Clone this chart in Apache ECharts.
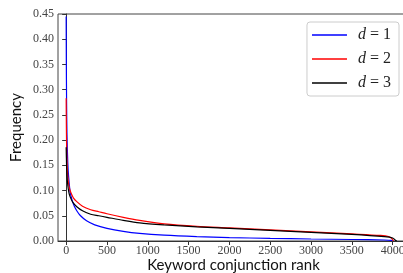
<!DOCTYPE html>
<html>
<head>
<meta charset="utf-8">
<script src="https://cdn.jsdelivr.net/npm/echarts@6/dist/echarts.min.js"></script>
<style>
html, body { margin: 0; padding: 0; background: #fff; }
#chart { width: 403px; height: 273px; }
</style>
</head>
<body>
<div id="chart"></div>
<script>
// rank and frequency
var rank1 = [0, 2, 5, 10, 20, 30, 50, 80, 100, 130, 170, 250, 350, 500, 700, 900, 1200, 1600, 2000, 2500, 3000, 3500, 3900, 3985, 4000];
var freq1 = [0.445, 0.36, 0.28, 0.21, 0.155, 0.128, 0.096, 0.077, 0.069, 0.060, 0.051, 0.040, 0.032, 0.025, 0.019, 0.015, 0.0115, 0.0087, 0.0068, 0.0052, 0.0040, 0.0030, 0.0020, 0.0012, 0.0];

var rank2 = [0, 3, 8, 15, 25, 40, 60, 90, 130, 200, 300, 400, 500, 700, 900, 1200, 1600, 2000, 2500, 3000, 3500, 3850, 3950, 3990, 4010];
var freq2 = [0.283, 0.22, 0.17, 0.14, 0.12, 0.105, 0.095, 0.085, 0.078, 0.069, 0.062, 0.058, 0.054, 0.047, 0.041, 0.034, 0.029, 0.026, 0.022, 0.018, 0.014, 0.011, 0.009, 0.005, 0.0];

var rank3 = [0, 5, 10, 20, 35, 50, 80, 130, 200, 300, 400, 500, 700, 900, 1200, 1600, 2000, 2500, 3000, 3500, 3900, 4000, 4030, 4050];
var freq3 = [0.186, 0.15, 0.13, 0.11, 0.095, 0.087, 0.077, 0.068, 0.060, 0.053, 0.050, 0.047, 0.041, 0.036, 0.032, 0.028, 0.025, 0.021, 0.017, 0.013, 0.0085, 0.006, 0.002, 0.0];

var xTicks = [0, 500, 1000, 1500, 2000, 2500, 3000, 3500, 4000];

var names = ['d = 1', 'd = 2', 'd = 3'];
var colors = ['#0000ff', '#ff0000', '#000000'];

function pairs(xs, ys) {
    return xs.map(function (x, i) { return [x, ys[i]]; });
}

var myChart = echarts.init(document.getElementById('chart'));

var tickFont = {
    fontFamily: 'Liberation Serif',
    fontSize: 12,
    color: '#444'
};

var option = {
    animation: false,
    grid: {
        left: 58, top: 14, right: -6, bottom: 32,
        outerBoundsMode: 'none',
        show: true, borderColor: '#444', borderWidth: 1
    },
    legend: {
        right: 4, top: 22,
        orient: 'vertical',
        icon: 'rect',
        itemWidth: 35, itemHeight: 1.5,
        itemGap: 8,
        padding: [5, 8, 5, 5],
        borderColor: '#ccc', borderWidth: 1, borderRadius: 3,
        backgroundColor: '#fff',
        data: names,
        formatter: function (n) { return '{i|d} = ' + n.split('= ')[1]; },
        textStyle: {
            fontFamily: 'Liberation Serif', fontSize: 16, color: '#222',
            padding: [0, 0, 0, 6],
            rich: { i: { fontStyle: 'italic', fontFamily: 'Liberation Serif', fontSize: 16 } }
        }
    },
    xAxis: {
        type: 'value',
        min: -100, max: 4200,
        interval: 500,
        name: 'Keyword conjunction rank',
        nameLocation: 'middle',
        nameMoveOverlap: false,
        nameGap: 17,
        nameTextStyle: { fontFamily: 'Lato', fontSize: 15, color: '#111', verticalAlign: 'top' },
        axisLine: { show: true, lineStyle: { color: '#333' } },
        axisTick: { show: true, length: 4, lineStyle: { color: '#333' }, customValues: xTicks },
        axisLabel: Object.assign({ margin: 4, customValues: xTicks,
            formatter: function (v) { return String(v); } }, tickFont),
        splitLine: { show: false }
    },
    yAxis: {
        type: 'value',
        min: 0, max: 0.45,
        interval: 0.05,
        name: 'Frequency',
        nameLocation: 'middle',
        nameMoveOverlap: false,
        nameGap: 34,
        nameTextStyle: { fontFamily: 'Lato', fontSize: 15, color: '#111' },
        axisLine: { show: true, lineStyle: { color: '#333' } },
        axisTick: { show: true, length: 4, lineStyle: { color: '#333' } },
        axisLabel: Object.assign({ margin: 4, formatter: function (v) { return v.toFixed(2); } }, tickFont),
        splitLine: { show: false }
    },
    series: [
        { name: names[0], type: 'line', data: pairs(rank1, freq1) },
        { name: names[1], type: 'line', data: pairs(rank2, freq2) },
        { name: names[2], type: 'line', data: pairs(rank3, freq3) }
    ].map(function (s, i) {
        s.showSymbol = false;
        s.symbol = 'none';
        s.smooth = 0.3;
        s.lineStyle = { width: 1.2, color: colors[i] };
        s.itemStyle = { color: colors[i] };
        s.z = 2 + i;
        return s;
    })
};

myChart.setOption(option);
window.addEventListener('resize', function () { myChart.resize(); });
</script>
</body>
</html>
